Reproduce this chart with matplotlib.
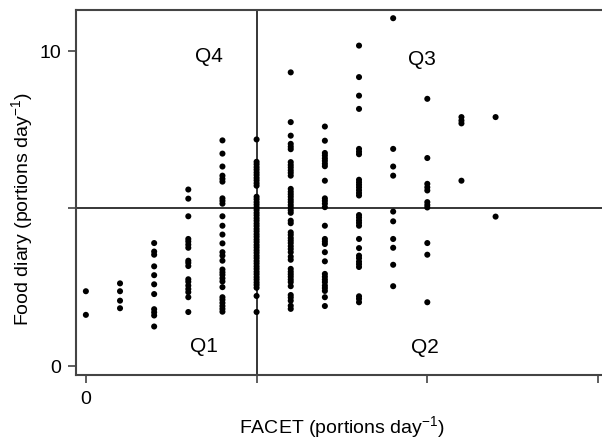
import matplotlib
matplotlib.use('Agg')
import matplotlib.pyplot as plt

plt.rcParams['font.family'] = ['Liberation Sans', 'DejaVu Sans']
plt.rcParams['mathtext.fontset'] = 'custom'
plt.rcParams['mathtext.rm'] = 'Liberation Sans'
plt.rcParams['mathtext.it'] = 'Liberation Sans'
plt.rcParams['mathtext.default'] = 'regular'

# FACET value for each column of points and the food diary values in that column
facet_values = [0, 1, 2, 3, 4, 5, 6, 7, 8, 9, 10, 11, 12]
diary_values = [
    [2.37, 1.62],
    [2.62, 2.37, 2.07, 1.83],
    [3.90, 3.63, 3.53, 3.16, 2.88, 2.59, 2.28, 1.80, 1.70, 1.60, 1.25],
    [5.60, 5.31, 4.75, 4.03, 3.95, 3.85, 3.75, 3.34, 3.27, 3.17, 2.75, 2.67,
     2.55, 2.44, 2.34, 2.18, 1.71],
    [7.16, 6.74, 6.33, 6.04, 5.94, 5.85, 5.32, 5.24, 5.15, 4.75, 4.45, 4.17,
     3.89, 3.61, 3.50, 3.34, 3.06, 2.97, 2.89, 2.78, 2.68, 2.50, 2.18, 2.10,
     2.00, 1.90, 1.81, 1.72],
    [7.19, 6.48, 6.40, 6.31, 6.23, 6.14, 6.06, 5.97, 5.89, 5.80, 5.72, 5.37,
     5.29, 5.20, 5.12, 5.03, 4.95, 4.86, 4.78, 4.69, 4.61, 4.52, 4.44, 4.35,
     4.27, 4.18, 4.10, 4.01, 3.93, 3.84, 3.76, 3.67, 3.59, 3.50, 3.42, 3.33,
     3.25, 3.16, 3.08, 2.99, 2.91, 2.82, 2.74, 2.65, 2.57, 2.48, 2.22, 1.71],
    [9.32, 7.74, 7.31, 7.05, 6.96, 6.88, 6.47, 6.38, 6.30, 6.21, 6.13, 6.04,
     5.62, 5.53, 5.45, 5.37, 5.28, 5.20, 5.11, 5.03, 4.94, 4.86, 4.61, 4.53,
     4.24, 4.16, 4.06, 3.98, 3.90, 3.80, 3.71, 3.61, 3.47, 3.37, 3.08, 2.99,
     2.91, 2.83, 2.74, 2.66, 2.53, 2.25, 2.17, 2.07, 1.91, 1.81],
    [7.60, 7.15, 6.76, 6.68, 6.59, 6.51, 6.42, 6.34, 5.88, 5.32, 5.24, 5.15,
     5.04, 4.45, 4.03, 3.95, 3.87, 3.61, 3.32, 2.92, 2.83, 2.74, 2.66, 2.55,
     2.47, 2.38, 2.18, 1.90],
    [10.17, 9.17, 8.58, 8.16, 6.89, 6.80, 6.72, 5.91, 5.83, 5.75, 5.67, 5.58,
     5.49, 5.41, 4.79, 4.71, 4.62, 4.54, 4.45, 4.03, 3.74, 3.50, 3.42, 3.31,
     3.23, 3.14, 2.21, 2.13, 2.02],
    [11.04, 6.89, 6.33, 6.04, 4.90, 4.59, 4.03, 3.75, 3.21, 2.53],
    [8.48, 6.60, 5.78, 5.67, 5.57, 5.20, 5.11, 5.03, 3.90, 3.53, 2.02],
    [7.90, 7.79, 7.70, 5.88],
    [7.90, 4.74],
]

cut_x = 5
cut_y = 5
quadrant_labels = ['Q1', 'Q2', 'Q3', 'Q4']
quadrant_x = [3.46, 9.93, 9.84, 3.6]
quadrant_y = [0.65, 0.63, 9.75, 9.84]

fig = plt.figure(figsize=(6.02, 4.39), dpi=100)
ax = fig.add_axes([0.1262, 0.1435, 0.874, 0.8314])

xs = []
ys = []
for fx, col in zip(facet_values, diary_values):
    for v in col:
        xs.append(fx)
        ys.append(v)
ax.scatter(xs, ys, s=19, color='black', edgecolors='none', zorder=3)

ax.axvline(cut_x, color='black', lw=1.1, zorder=2)
ax.axhline(cut_y, color='black', lw=1.1, zorder=2)

for lab, qx, qy in zip(quadrant_labels, quadrant_x, quadrant_y):
    ax.text(qx, qy, lab, ha='center', va='center', fontsize=15)

ax.set_xlim(-0.29, 15.12)
ax.set_ylim(-0.29, 11.3)
ax.set_xticks([0, 5, 10, 15])
ax.set_xticklabels(['0', '', '', ''])
ax.set_yticks([0, 5, 10])
ax.set_yticklabels(['0', '', '10'])
ax.tick_params(axis='both', length=6, width=1.1, color='#333333', labelsize=14)
ax.tick_params(axis='x', pad=5)
ax.tick_params(axis='y', pad=4.5)

for side in ['left', 'bottom', 'top']:
    ax.spines[side].set_color('#444444')
    ax.spines[side].set_linewidth(1.5)
ax.spines['right'].set_visible(False)

ax.set_xlabel('FACET (portions day$^{-1}$)', fontsize=14)
ax.xaxis.set_label_coords(0.505, -0.14)
ax.xaxis.label.set_va('center')
ax.set_ylabel('Food diary (portions day$^{-1}$)', fontsize=14)
ax.yaxis.set_label_coords(-0.103, 0.457)
ax.yaxis.label.set_va('center')

fig.savefig('out.png', dpi=100)
